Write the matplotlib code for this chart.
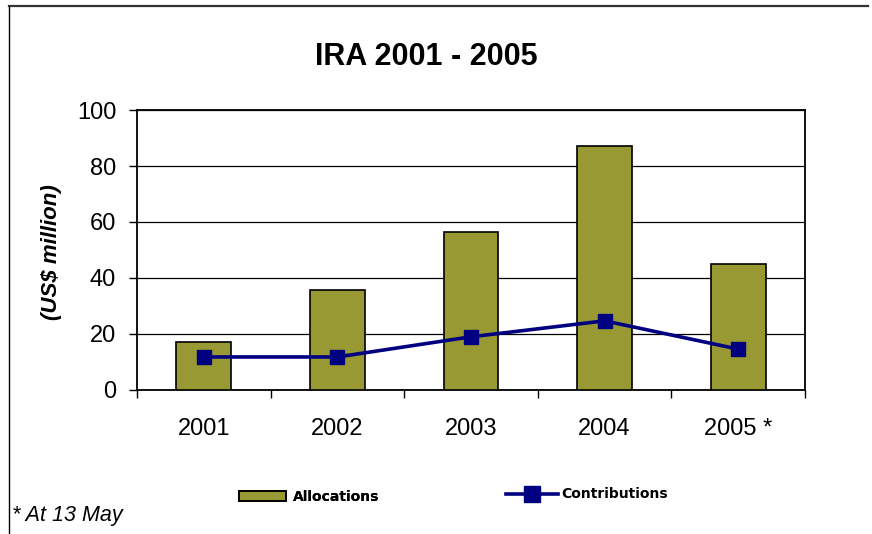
import matplotlib
matplotlib.use("Agg")
import matplotlib.pyplot as plt
from matplotlib.lines import Line2D
from matplotlib.patches import Patch
import numpy as np

plt.rcParams['font.family'] = ['Liberation Sans', 'DejaVu Sans']

categories = ["2001", "2002", "2003", "2004", "2005 *"]
allocations = [17.1, 35.7, 56.4, 87.3, 44.9]
contributions = [11.8, 11.8, 19.0, 24.7, 14.6]
yticks = [0, 20, 40, 60, 80, 100]
series_names = ["Allocations", "Contributions"]

W, H = 872, 534
fig = plt.figure(figsize=(W / 100, H / 100), dpi=100)
fig.patch.set_facecolor("white")

ax = fig.add_axes([137 / W, 1 - 390 / H, (805 - 137) / W, (390 - 110) / H])
x = np.arange(len(categories))

bar_color = "#999933"
line_color = "#000080"

ax.bar(x, allocations, width=0.41, color=bar_color, edgecolor="black",
       linewidth=1.2, zorder=3)
ax.plot(x, contributions, color=line_color, linewidth=2.6, marker="s",
        markersize=10.5, markerfacecolor=line_color, markeredgecolor=line_color,
        zorder=4)

ax.set_xlim(-0.5, len(categories) - 0.5)
ax.set_ylim(0, 100)
ax.set_yticks(yticks)
ax.set_yticklabels([str(v) for v in yticks], fontsize=17)
ax.yaxis.grid(True, color="black", linewidth=0.9, zorder=0)
ax.set_axisbelow(True)

ax.set_xticks(x)
ax.set_xticklabels(categories, fontsize=17)
ax.set_xticks(np.arange(len(categories) + 1) - 0.5, minor=True)
ax.tick_params(axis="x", which="major", length=0, pad=20)
ax.tick_params(axis="x", which="minor", length=6, width=1, direction="out")
ax.tick_params(axis="y", length=6, width=1, direction="out", pad=9)

for s in ax.spines.values():
    s.set_linewidth(1.3)
    s.set_color("black")

fig.text(51 / W, 1 - 252 / H, "(US$ million)", rotation=90, fontsize=16,
         fontweight="bold", fontstyle="italic", ha="center", va="center")

fig.text(426 / W, 1 - 57 / H, "IRA 2001 - 2005", fontsize=22,
         fontweight="bold", ha="center", va="center")

legend_prop = {"family": "DejaVu Sans", "weight": "bold", "size": 10}
h_alloc = Patch(facecolor=bar_color, edgecolor="black", linewidth=1.4)
h_contrib = Line2D([0], [0], color=line_color, linewidth=2.6, marker="s",
                   markersize=11.5, markerfacecolor=line_color,
                   markeredgecolor=line_color)
leg1 = fig.legend([h_alloc], [series_names[0]], loc="center left",
                  bbox_to_anchor=(239 / W, 1 - 497 / H), frameon=False,
                  borderpad=0, borderaxespad=0, handlelength=3.4,
                  handleheight=0.72, handletextpad=0.45, prop=legend_prop)
fig.add_artist(leg1)
fig.legend([h_contrib], [series_names[1]], loc="center left",
           bbox_to_anchor=(506 / W, 1 - 494.5 / H), frameon=False,
           borderpad=0, borderaxespad=0, handlelength=3.75,
           handletextpad=0.2, prop=legend_prop)

fig.text(12 / W, 1 - 515 / H, "* At 13 May", fontsize=15.5, fontstyle="italic",
         ha="left", va="center")

# outer chart border (left and top)
fig.add_artist(Line2D([8.5 / W, 8.5 / W], [0, 1 - 5.5 / H], color="black",
                      linewidth=1.0, transform=fig.transFigure))
fig.add_artist(Line2D([8.5 / W, 868 / W], [1 - 5.5 / H, 1 - 5.5 / H],
                      color="#333333", linewidth=1.6,
                      transform=fig.transFigure))

fig.savefig("out.png", dpi=100)
